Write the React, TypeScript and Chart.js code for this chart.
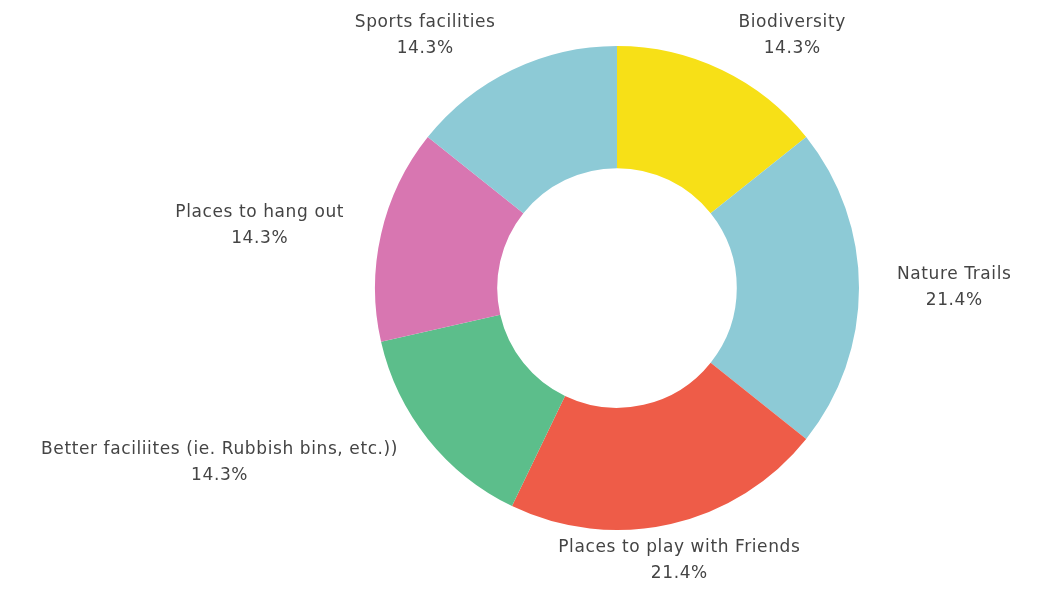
import React, { useEffect, useRef } from "react";
import { Chart, registerables } from "chart.js";

Chart.register(...registerables);

const categories = [
  "Biodiversity",
  "Nature Trails",
  "Places to play with Friends",
  "Better faciliites (ie. Rubbish bins, etc.))",
  "Places to hang out",
  "Sports facilities",
];
const values = [2, 3, 3, 2, 2, 2];
const percentLabels = ["14.3%", "21.4%", "21.4%", "14.3%", "14.3%", "14.3%"];
const colors = ["#F7E017", "#8DCAD6", "#EE5C48", "#5CBE8B", "#D876B1", "#8DCAD6"];

const labelPlugin = {
  id: "outerLabels",
  afterDatasetsDraw(chart: any) {
    const ctx = chart.ctx;
    const meta = chart.getDatasetMeta(0);
    ctx.save();
    ctx.font = "17px 'DejaVu Sans', sans-serif";
    (ctx as any).letterSpacing = "0.6px";
    ctx.fillStyle = "#444444";
    ctx.textBaseline = "middle";
    meta.data.forEach((arc: any, i: number) => {
      const { x, y, startAngle, endAngle, outerRadius } = arc.getProps(
        ["x", "y", "startAngle", "endAngle", "outerRadius"],
        true
      );
      const mid = (startAngle + endAngle) / 2;
      const r = outerRadius + 38;
      const ax = x + Math.cos(mid) * r;
      const ay = y + Math.sin(mid) * r;
      const c = Math.cos(mid);
      let align: CanvasTextAlign = "center";
      if (c > 0.3) align = "left";
      else if (c < -0.3) align = "right";
      const lines = [categories[i], percentLabels[i]];
      const lh = 26;
      const w0 = ctx.measureText(lines[0]).width;
      let cx = ax;
      if (align === "left") cx = ax + w0 / 2;
      else if (align === "right") cx = ax - w0 / 2;
      ctx.textAlign = "center";
      ctx.fillText(lines[0], cx, ay - lh / 2);
      ctx.fillText(lines[1], cx, ay + lh / 2);
    });
    ctx.restore();
  },
};

export default function App() {
  const ref = useRef<HTMLCanvasElement | null>(null);
  useEffect(() => {
    if (!ref.current) return;
    const chart = new Chart(ref.current, {
      type: "doughnut",
      data: {
        labels: categories,
        datasets: [
          {
            data: values,
            backgroundColor: colors,
            borderWidth: 0,
          },
        ],
      },
      options: {
        animation: false,
        responsive: false,
        cutout: "49.5%",
        layout: { padding: { left: 200, right: 15, top: 46, bottom: 59 } },
        plugins: {
          legend: { display: false },
          tooltip: { enabled: false },
        },
      },
      plugins: [labelPlugin],
    });
    return () => chart.destroy();
  }, []);
  return (
    <div style={{ position: "fixed", left: 0, top: 0, width: 1049, height: 589, background: "#fff" }}>
      <canvas ref={ref} width={1049} height={589} />
    </div>
  );
}
